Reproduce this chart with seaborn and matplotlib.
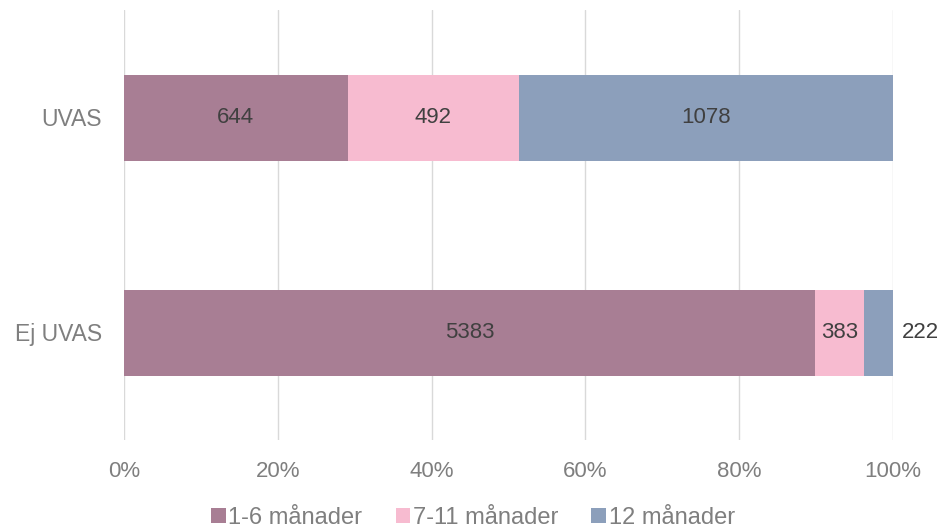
import matplotlib
matplotlib.use("Agg")
import matplotlib.pyplot as plt
import seaborn as sns
import pandas as pd
import numpy as np
from matplotlib.patches import Patch

groups = ["UVAS", "Ej UVAS"]
series = ["1-6 månader", "7-11 månader", "12 månader"]
v_1_6 = [644, 5383]
v_7_11 = [492, 383]
v_12 = [1078, 222]
colors = ["#A87E94", "#F7BBD0", "#8C9FBB"]
xticks = [0, 20, 40, 60, 80, 100]

sns.set_theme(style="white")
plt.rcParams['font.family'] = ['Liberation Sans', 'DejaVu Sans']

vals = np.array([v_1_6, v_7_11, v_12], dtype=float)
tot = vals.sum(axis=0)
pct = vals / tot * 100
cum = np.cumsum(pct, axis=0)

fig = plt.figure(figsize=(9.46, 5.31), dpi=100)
ax = fig.add_axes([124/946, 91/531, (893-124)/946, 430/531])

for i in reversed(range(3)):
    df = pd.DataFrame({"group": groups, "value": cum[i]})
    sns.barplot(data=df, y="group", x="value", orient="h", color=colors[i],
                width=0.4, ax=ax, saturation=1, zorder=3, linewidth=0)

for j, g in enumerate(groups):
    for i in range(3):
        left = cum[i, j] - pct[i, j]
        if pct[i, j] < 5:
            ax.text(101.2, j, f"{int(vals[i, j])}", ha="left", va="center",
                    fontsize=16, color="#404040", zorder=5)
        else:
            ax.text(left + pct[i, j] / 2, j, f"{int(vals[i, j])}", ha="center",
                    va="center", fontsize=16, color="#404040", zorder=5)

ax.set_xlim(0, 100)
ax.set_ylim(1.5, -0.5)
ax.set_xticks(xticks)
ax.set_xticklabels([f"{t}%" for t in xticks])
ax.xaxis.grid(True, color="#D9D9D9", linewidth=1, zorder=0)
ax.set_axisbelow(True)
for s in ax.spines.values():
    s.set_visible(False)
ax.tick_params(axis="both", length=0, labelsize=16, labelcolor="#7F7F7F")
ax.tick_params(axis="y", labelsize=16.5, pad=16)
ax.tick_params(axis="x", pad=15)
ax.set_xlabel("")
ax.set_ylabel("")

handles = [Patch(facecolor=c, edgecolor="none", label=s) for c, s in zip(colors, series)]
fig.legend(handles=handles, loc="center", bbox_to_anchor=(0.5, 1 - 518/531), ncol=3,
           frameon=False, fontsize=17, handlelength=0.62, handleheight=0.62,
           handletextpad=0.12, columnspacing=1.4, labelcolor="#7F7F7F",
           borderpad=0, borderaxespad=0)

fig.savefig("out.png", dpi=100)
